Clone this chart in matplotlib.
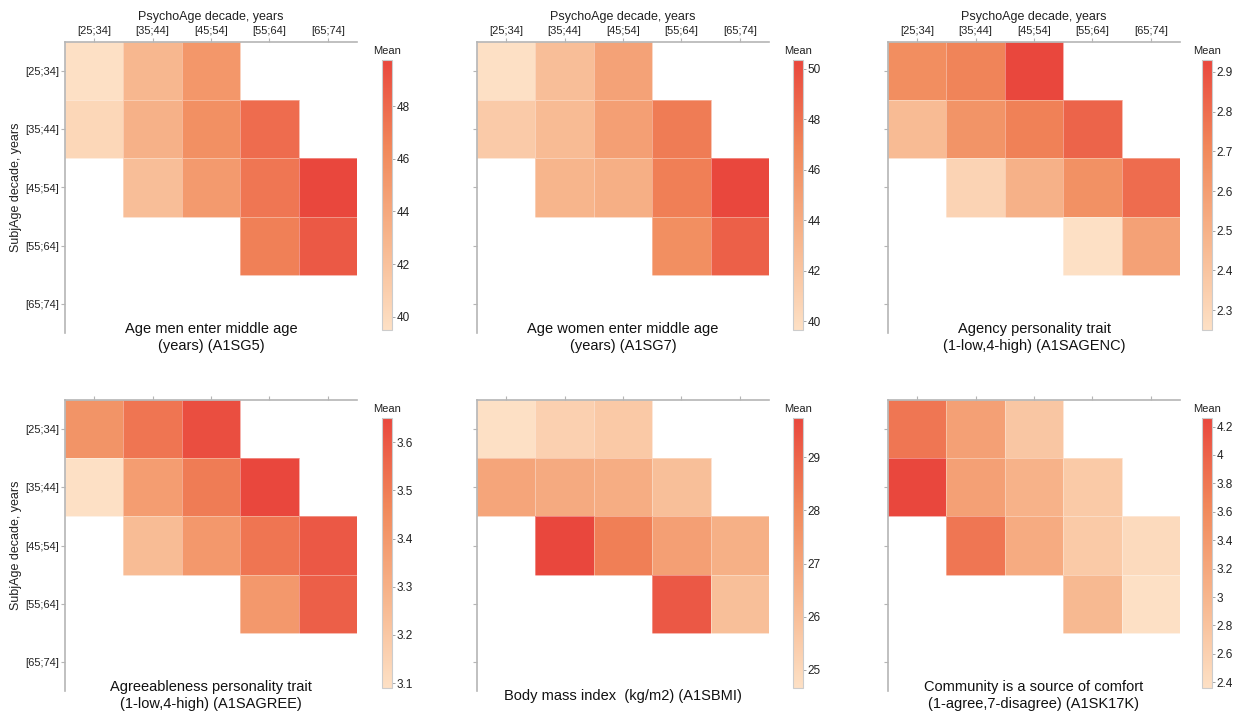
import numpy as np
import matplotlib.pyplot as plt
from matplotlib.colors import LinearSegmentedColormap

plt.rcParams['font.family'] = ['Liberation Sans', 'DejaVu Sans']

# decade categories
decades = ['[25;34]', '[35;44]', '[45;54]', '[55;64]', '[65;74]']
nan = np.nan

# rows = SubjAge decade, cols = PsychoAge decade
men_middle_age = [
    [39.5, 42.8, 45.3, nan, nan],
    [40.3, 43.3, 45.8, 47.8, nan],
    [nan, 42.3, 45.0, 47.3, 49.75],
    [nan, nan, nan, 46.8, 48.8],
    [nan, nan, nan, nan, nan],
]
women_middle_age = [
    [39.65, 42.5, 44.8, nan, nan],
    [41.5, 42.8, 45.0, 47.5, nan],
    [nan, 43.3, 43.8, 47.3, 50.35],
    [nan, nan, nan, 46.3, 49.0],
    [nan, nan, nan, nan, nan],
]
agency = [
    [2.68, 2.72, 2.93, nan, nan],
    [2.45, 2.65, 2.73, 2.83, nan],
    [nan, 2.32, 2.50, 2.66, 2.80],
    [nan, nan, nan, 2.25, 2.58],
    [nan, nan, nan, nan, nan],
]
agreeableness = [
    [3.42, 3.52, 3.63, nan, nan],
    [3.09, 3.38, 3.50, 3.65, nan],
    [nan, 3.25, 3.40, 3.52, 3.60],
    [nan, nan, nan, 3.40, 3.58],
    [nan, nan, nan, nan, nan],
]
bmi = [
    [24.66, 25.3, 25.6, nan, nan],
    [27.0, 26.8, 26.7, 26.0, nan],
    [nan, 29.74, 28.3, 27.2, 26.6],
    [nan, nan, nan, 29.3, 26.0],
    [nan, nan, nan, nan, nan],
]
community = [
    [3.80, 3.30, 2.75, nan, nan],
    [4.26, 3.30, 3.05, 2.70, nan],
    [nan, 3.80, 3.15, 2.70, 2.45],
    [nan, nan, nan, 2.95, 2.36],
    [nan, nan, nan, nan, nan],
]

titles = [
    'Age men enter middle age\n(years) (A1SG5)',
    'Age women enter middle age\n(years) (A1SG7)',
    'Agency personality trait\n(1-low,4-high) (A1SAGENC)',
    'Agreeableness personality trait\n(1-low,4-high) (A1SAGREE)',
    'Body mass index  (kg/m2) (A1SBMI)',
    'Community is a source of comfort\n(1-agree,7-disagree) (A1SK17K)',
]
datasets = [men_middle_age, women_middle_age, agency, agreeableness, bmi, community]
cbar_ticks = [
    [40, 42, 44, 46, 48],
    [40, 42, 44, 46, 48, 50],
    [2.3, 2.4, 2.5, 2.6, 2.7, 2.8, 2.9],
    [3.1, 3.2, 3.3, 3.4, 3.5, 3.6],
    [25, 26, 27, 28, 29],
    [2.4, 2.6, 2.8, 3, 3.2, 3.4, 3.6, 3.8, 4, 4.2],
]

cmap = LinearSegmentedColormap.from_list(
    'peach_red', ['#fde0c5', '#f7b68d', '#f1895b', '#e9473d'])

W, H = 1241, 717
fig = plt.figure(figsize=(W / 100, H / 100), dpi=100)

def px(x0, y0, w, h):
    return [x0 / W, 1 - (y0 + h) / H, w / W, h / H]

ax_left = [65, 477, 888]
cb_left = [382, 793, 1202]
ax_top = [42, 400]
spine_col = '#b5b5b5'
txt_col = '#222222'

for i, (data, title) in enumerate(zip(datasets, titles)):
    r, c = divmod(i, 3)
    arr = np.ma.masked_invalid(np.array(data, dtype=float))
    ax = fig.add_axes(px(ax_left[c], ax_top[r], 292, 291))
    mesh = ax.pcolormesh(np.arange(6), np.arange(6), arr, cmap=cmap,
                         vmin=arr.min(), vmax=arr.max(),
                         edgecolor=(1, 1, 1, 0.35), linewidth=0.4)
    ax.set_xlim(0, 5)
    ax.set_ylim(5, 0)
    for s in ['right', 'bottom']:
        ax.spines[s].set_visible(False)
    for s in ['left', 'top']:
        ax.spines[s].set_color(spine_col)
        ax.spines[s].set_linewidth(1.2)
    ax.xaxis.tick_top()
    ax.set_xticks(np.arange(5) + 0.5)
    ax.set_yticks(np.arange(5) + 0.5)
    ax.tick_params(length=3, width=0.8, color=spine_col, labelsize=8,
                   pad=1.5, labelcolor=txt_col)
    if r == 0:
        ax.set_xticklabels(decades)
        ax.xaxis.set_label_position('top')
        ax.set_xlabel('PsychoAge decade, years', fontsize=9, labelpad=4,
                      color=txt_col)
    else:
        ax.set_xticklabels([])
    if c == 0:
        ax.set_yticklabels(decades)
        ax.set_ylabel('SubjAge decade, years', fontsize=9, labelpad=2,
                      color=txt_col)
    else:
        ax.set_yticklabels([])
    ax.text(2.5, 5.08, title, ha='center', va='center', fontsize=10.5,
            color='#111111', linespacing=1.3, clip_on=False)

    cax = fig.add_axes(px(cb_left[c], ax_top[r] + 18, 10, 270))
    cb = fig.colorbar(mesh, cax=cax, ticks=cbar_ticks[i])
    cb.set_ticklabels([f'{t:g}' for t in cbar_ticks[i]])
    cb.outline.set_edgecolor('#cccccc')
    cb.outline.set_linewidth(0.8)
    cax.tick_params(length=2, width=0.6, color='#999999', labelsize=8.5,
                    pad=1.5, labelcolor=txt_col)
    cax.set_title('Mean', fontsize=8, pad=4, color=txt_col)

fig.savefig('out.png', dpi=100)
